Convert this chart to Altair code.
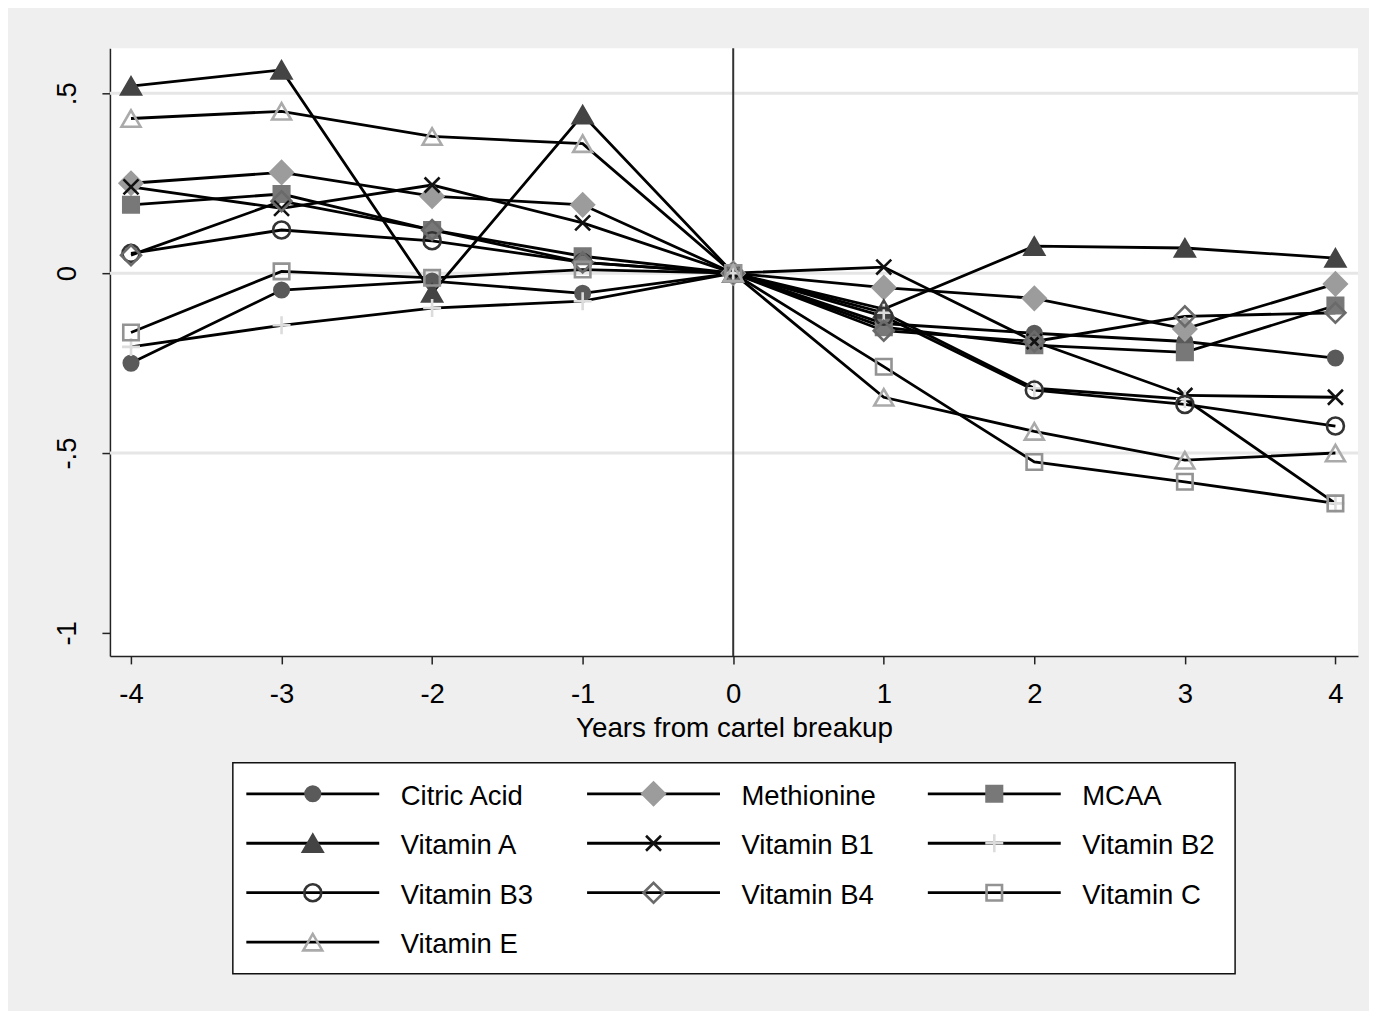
import altair as alt
import pandas as pd

# ---------------- data ----------------
years = [-4, -3, -2, -1, 0, 1, 2, 3, 4]
series = ["Citric Acid", "Methionine", "MCAA", "Vitamin A", "Vitamin B1",
          "Vitamin B2", "Vitamin B3", "Vitamin B4", "Vitamin C", "Vitamin E"]
citric_acid = [-0.25, -0.047, -0.022, -0.056, 0.0, -0.14, -0.167, -0.19, -0.236]
methionine = [0.25, 0.28, 0.214, 0.19, 0.0, -0.04, -0.07, -0.155, -0.03]
mcaa = [0.19, 0.22, 0.12, 0.047, 0.0, -0.15, -0.2, -0.22, -0.09]
vitamin_a = [0.52, 0.565, -0.055, 0.44, 0.0, -0.1, 0.075, 0.07, 0.042]
vitamin_b1 = [0.24, 0.18, 0.245, 0.14, 0.0, 0.017, -0.19, -0.34, -0.345]
vitamin_b2 = [-0.205, -0.145, -0.097, -0.078, 0.0, -0.11, -0.32, -0.35, -0.64]
vitamin_b3 = [0.055, 0.12, 0.09, 0.03, 0.0, -0.12, -0.325, -0.365, -0.425]
vitamin_b4 = [0.05, 0.2, 0.12, 0.03, 0.0, -0.16, -0.19, -0.12, -0.11]
vitamin_c = [-0.165, 0.005, -0.013, 0.01, 0.0, -0.26, -0.525, -0.58, -0.64]
vitamin_e = [0.43, 0.45, 0.38, 0.36, 0.0, -0.345, -0.44, -0.52, -0.5]
x_ticks = [-4, -3, -2, -1, 0, 1, 2, 3, 4]
x_tick_labels = ["-4", "-3", "-2", "-1", "0", "1", "2", "3", "4"]
y_ticks = [-1, -0.5, 0, 0.5]
y_tick_labels = ["-1", "-.5", "0", ".5"]
grid_values = [-0.5, 0, 0.5]
x_title = "Years from cartel breakup"

all_values = [citric_acid, methionine, mcaa, vitamin_a, vitamin_b1,
              vitamin_b2, vitamin_b3, vitamin_b4, vitamin_c, vitamin_e]

# ---------------- styles ----------------
X_PATH = "M-1,-1L1,1M-1,1L1,-1"
PLUS_PATH = "M-1,0L1,0M0,-1L0,1"
DIAMOND_PATH = "M-1,0L0,-1L1,0L0,1Z"
shapes = ["circle", DIAMOND_PATH, "square", "triangle-up", X_PATH,
          PLUS_PATH, "circle", DIAMOND_PATH, "square", "triangle-up"]
fills = ["#5a5a5a", "#9c9c9c", "#787878", "#444444", "transparent",
         "transparent", "transparent", "transparent", "transparent", "transparent"]
strokes = ["#5a5a5a", "#9c9c9c", "#787878", "#444444", "#111111",
           "#dcdcdc", "#333333", "#6a6a6a", "#939393", "#aaaaaa"]
sizes = [210, 506, 240, 380, 225, 324, 289, 400, 240, 361]
FONT = "Liberation Sans"

rows = []
for i, (name, vals) in enumerate(zip(series, all_values)):
    for yr, v in zip(years, vals):
        rows.append({"series": name, "order": i, "year": yr, "value": v})
df = pd.DataFrame(rows)

legend_df = pd.DataFrame({"series": series,
                          "col": [i % 3 for i in range(len(series))],
                          "row": [i // 3 for i in range(len(series))],
                          "order": list(range(len(series)))})


def make_expr(vals, labels):
    return " : ".join(
        [f"datum.value == {v} ? '{l}'" for v, l in zip(vals, labels)]
    ) + " : datum.label"


xscale = alt.Scale(domain=[-4.14, 4.15], nice=False, zero=False)
yscale = alt.Scale(domain=[-1.064, 0.625], nice=False, zero=False)

shape_scale = alt.Scale(domain=series, range=shapes, type="ordinal")
fill_scale = alt.Scale(domain=series, range=fills, type="ordinal")
stroke_scale = alt.Scale(domain=series, range=strokes, type="ordinal")
size_scale = alt.Scale(domain=series, range=sizes, type="ordinal")

x_axis = alt.Axis(values=x_ticks, title=x_title, grid=False, labelFontSize=27.5,
                  labelExpr=make_expr(x_ticks, x_tick_labels),
                  titleFontSize=27.8, titleFontWeight="normal", labelPadding=17,
                  titlePadding=6, tickSize=8, tickColor="#222222", tickWidth=1.5,
                  domainColor="#222222", domainWidth=1.5, labelColor="#000000",
                  titleColor="#000000", labelFont=FONT, titleFont=FONT)
y_axis = alt.Axis(values=y_ticks, title=None, grid=False, labelFontSize=27.5,
                  labelAngle=270, labelAlign="center", labelBaseline="bottom",
                  labelPadding=20, labelExpr=make_expr(y_ticks, y_tick_labels),
                  tickSize=8, tickColor="#222222", tickWidth=1.5,
                  domainColor="#222222", domainWidth=1.5, labelColor="#000000",
                  labelFont=FONT)

X = alt.X("year:Q", scale=xscale, axis=x_axis, title=x_title)
Y = alt.Y("value:Q", scale=yscale, axis=y_axis, title=None)

lines = alt.Chart(df).mark_line(color="#000000", strokeWidth=2.8).encode(
    x=X, y=Y, detail="series:N", order="year:Q",
)

vline = alt.Chart(df).mark_rule(color="#333333", strokeWidth=2).encode(
    x=X).transform_filter(alt.datum.year == 0).transform_aggregate(groupby=["year"])

points = alt.Chart(df).mark_point(filled=True, opacity=1, strokeWidth=2.6).encode(
    x=X, y=Y,
    shape=alt.Shape("series:N", scale=shape_scale, legend=None),
    fill=alt.Fill("series:N", scale=fill_scale, legend=None),
    stroke=alt.Stroke("series:N", scale=stroke_scale, legend=None),
    size=alt.Size("series:N", scale=size_scale, legend=None),
    order="order:Q",
)

grid_chart = alt.Chart(pd.DataFrame({"value": grid_values})).mark_rule(
    color="#e6e6e6", strokeWidth=3).encode(y=Y)

main = alt.layer(grid_chart, vline, lines, points).properties(
    width=1249, height=608,
    view=alt.ViewBackground(fill="white", stroke=None),
)

# ---------------- legend ----------------
lx = alt.Scale(domain=[-0.2346, 2.7067], nice=False, zero=False)
ly = alt.Scale(domain=[-0.626, 3.636], nice=False, zero=False, reverse=True)

leg_base = alt.Chart(legend_df)
leg_lines = leg_base.mark_tick(orient="horizontal", size=133, thickness=2.8,
                               color="#000000", opacity=1).encode(
    x=alt.X("col:Q", scale=lx, axis=None),
    y=alt.Y("row:Q", scale=ly, axis=None),
)
leg_points = leg_base.mark_point(filled=True, opacity=1, strokeWidth=2.6).encode(
    x=alt.X("col:Q", scale=lx, axis=None),
    y=alt.Y("row:Q", scale=ly, axis=None),
    shape=alt.Shape("series:N", scale=shape_scale, legend=None),
    fill=alt.Fill("series:N", scale=fill_scale, legend=None),
    stroke=alt.Stroke("series:N", scale=stroke_scale, legend=None),
    size=alt.Size("series:N", scale=size_scale, legend=None),
)
leg_text = leg_base.mark_text(align="left", baseline="middle", dx=88, dy=3,
                              fontSize=27.5, font=FONT, color="#000000").encode(
    x=alt.X("col:Q", scale=lx, axis=None),
    y=alt.Y("row:Q", scale=ly, axis=None),
    text="series:N",
)
legend = alt.layer(leg_lines, leg_points, leg_text).properties(
    width=1003, height=211,
    view=alt.ViewBackground(fill="white", stroke="#111111", strokeWidth=1.5),
)

chart = alt.vconcat(main, legend, spacing=107, center=True, bounds="flush").properties(
    background="#efefef",
    padding={"left": 46, "top": 39, "right": 9, "bottom": 36},
).resolve_scale(shape="independent", fill="independent", stroke="independent",
                size="independent")

chart.save("out.html", embed_options={"renderer": "svg", "actions": False})
